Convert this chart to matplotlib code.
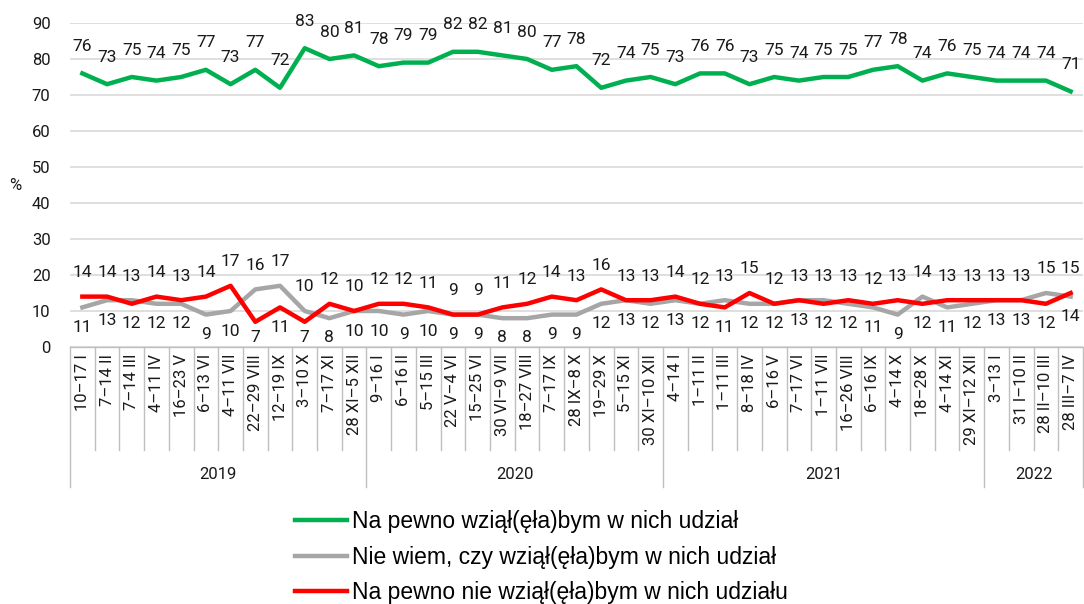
import matplotlib
matplotlib.use("Agg")
import matplotlib.pyplot as plt
import matplotlib.transforms as mtransforms
import numpy as np

# survey dates, grouped by year
cats_2019 = ["10–17 I", "7–14 II", "7–14 III", "4–11 IV", "16–23 V", "6–13 VI",
             "4–11 VII", "22–29 VIII", "12–19 IX", "3–10 X", "7–17 XI", "28 XI–5 XII"]
cats_2020 = ["9–16 I", "6–16 II", "5–15 III", "22 V–4 VI", "15–25 VI", "30 VI–9 VII",
             "18–27 VIII", "7–17 IX", "28 IX–8 X", "19–29 X", "5–15 XI", "30 XI–10 XII"]
cats_2021 = ["4–14 I", "1–11 II", "1–11 III", "8–18 IV", "6–16 V", "7–17 VI", "1–11 VII",
             "16–26 VIII", "6–16 IX", "4–14 X", "18–28 X", "4–14 XI", "29 XI–12 XII"]
cats_2022 = ["3–13 I", "31 I–10 II", "28 II–10 III", "28 III–7 IV"]
years = ["2019", "2020", "2021", "2022"]
groups = [cats_2019, cats_2020, cats_2021, cats_2022]
cats = cats_2019 + cats_2020 + cats_2021 + cats_2022

yes = [76, 73, 75, 74, 75, 77, 73, 77, 72, 83, 80, 81,
       78, 79, 79, 82, 82, 81, 80, 77, 78, 72, 74, 75,
       73, 76, 76, 73, 75, 74, 75, 75, 77, 78, 74, 76, 75,
       74, 74, 74, 71]
dunno = [11, 13, 13, 12, 12, 9, 10, 16, 17, 10, 8, 10,
         10, 9, 10, 9, 9, 8, 8, 9, 9, 12, 13, 12,
         13, 12, 13, 12, 12, 13, 13, 12, 11, 9, 14, 11, 12,
         13, 13, 15, 14]
no = [14, 14, 12, 14, 13, 14, 17, 7, 11, 7, 12, 10,
      12, 12, 11, 9, 9, 11, 12, 14, 13, 16, 13, 13,
      14, 12, 11, 15, 12, 13, 12, 13, 12, 13, 12, 13, 13,
      13, 13, 12, 15]

names = ["Na pewno wziął(ęła)bym w nich udział",
         "Nie wiem, czy wziął(ęła)bym w nich udział",
         "Na pewno nie wziął(ęła)bym w nich udziału"]
GREEN, GRAY, RED = "#00B050", "#A6A6A6", "#FF0000"

plt.rcParams['font.family'] = ['Roboto', 'DejaVu Sans']

fig = plt.figure(figsize=(10.84, 6.04), dpi=100)
ax = fig.add_axes([70 / 1084, 1 - 347 / 604, 1013 / 1084, 324 / 604])

x = np.arange(len(cats))
l1, = ax.plot(x, yes, color=GREEN, lw=3.2, zorder=3)
l2, = ax.plot(x, dunno, color=GRAY, lw=3.2, zorder=3)
l3, = ax.plot(x, no, color=RED, lw=3.2, zorder=4)

ax.set_xlim(-0.5, len(cats) - 0.5)
ax.set_ylim(0, 90)
ax.set_yticks(range(0, 91, 10))
ax.grid(axis='y', color='#D9D9D9', lw=1.2)
ax.set_axisbelow(True)
for s in ax.spines.values():
    s.set_visible(False)
ax.tick_params(axis='y', length=0, labelsize=12, pad=14, colors='#1a1a1a')
ax.set_xticks(x)
ax.set_xticklabels(cats, rotation=90, fontsize=12, color='#1a1a1a')
ax.tick_params(axis='x', length=0, pad=5)
fig.text(15 / 1084, 1 - 185 / 604, "%", fontsize=12, ha='center', va='center', color='#1a1a1a')

# data labels (offsets in points; 1 unit on y = 3.6 px)
px_per_unit = 324 / 90
for i in x:
    ax.annotate(str(yes[i]), (i, yes[i]), xytext=(0, 14), textcoords='offset points',
                ha='center', va='bottom', fontsize=12.5, color='#1a1a1a')
    hi, lo = max(no[i], dunno[i]), min(no[i], dunno[i])
    ax.annotate(str(hi), (i, hi), xytext=(0, 12), textcoords='offset points',
                ha='center', va='bottom', fontsize=12.5, color='#1a1a1a')
    # keep lower labels above the category axis
    off_px = min(20, lo * px_per_unit - 10)
    ax.annotate(str(lo), (i, lo), xytext=(0, -off_px * 0.72), textcoords='offset points',
                ha='center', va='center', fontsize=12.5, color='#1a1a1a')

# category separators + year groups
trans = mtransforms.blended_transform_factory(ax.transData, ax.transAxes)
start = 0
bounds = [-0.5]
for g in groups:
    start += len(g)
    bounds.append(start - 0.5)
for b in np.arange(-0.5, len(cats), 1.0):
    bottom = -0.432 if b in bounds else -0.318
    ax.plot([b, b], [0, bottom], transform=trans, color='#BFBFBF', lw=1, clip_on=False)
ax.plot([-0.5, len(cats) - 0.5], [0, 0], transform=trans, color='#BFBFBF', lw=1, clip_on=False)
for yr, a, b in zip(years, bounds[:-1], bounds[1:]):
    ax.text((a + b) / 2, -0.395, yr, transform=trans, ha='center', va='center',
            fontsize=12, color='#1a1a1a')

fig.legend([l1, l2, l3], names, loc='upper left', bbox_to_anchor=(295 / 1084, 1 - 510 / 604),
           frameon=False, borderpad=0, borderaxespad=0, handlelength=2.25, handletextpad=0.22,
           labelspacing=0.55, prop={'family': 'Liberation Sans', 'size': 16.5})

fig.savefig("out.png", dpi=100)
